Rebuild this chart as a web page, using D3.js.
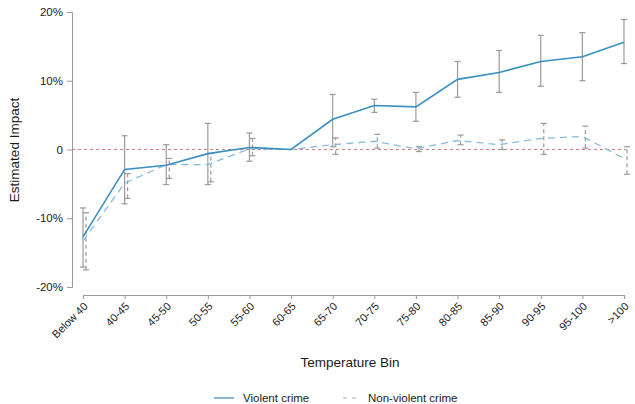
<!DOCTYPE html>
<html>
<head>
<meta charset="utf-8">
<script src="https://cdn.jsdelivr.net/npm/d3@7"></script>
<style>
  body { margin: 0; background: #fff; }
  svg { font-family: "Liberation Sans", Arial, sans-serif; }
</style>
</head>
<body>
<svg id="chart" width="635" height="404"></svg>
<script>
// Temperature bins (x categories)
const bins = ["Below 40", "40-45", "45-50", "50-55", "55-60", "60-65", "65-70",
  "70-75", "75-80", "80-85", "85-90", "90-95", "95-100", ">100"]

// Violent crime: estimate, lower and upper CI (percent)
const violent = [-12.7, -2.9, -2.3, -0.6, 0.3, 0, 4.4, 6.4, 6.2, 10.2, 11.2, 12.8, 13.5, 15.6]
const violentLo = [-17.1, -7.9, -5.1, -5.1, -1.7, 0, 0.4, 5.4, 4.1, 7.6, 8.3, 9.2, 10.0, 12.5]
const violentHi = [-8.5, 2.0, 0.7, 3.8, 2.4, 0, 8.0, 7.3, 8.3, 12.8, 14.4, 16.6, 17.0, 18.9]

// Non-violent crime: estimate, lower and upper CI (percent)
const nonViolent = [-13.3, -4.9, -2.2, -2.2, 0.1, 0, 0.7, 1.2, 0.1, 1.3, 0.7, 1.6, 1.9, -1.3]
const nonViolentLo = [-17.5, -7.1, -4.2, -4.7, -0.9, 0, -0.7, 0.2, -0.3, 0.7, 0.0, -0.7, 0.2, -3.6]
const nonViolentHi = [-9.2, -3.5, -1.3, -0.6, 1.6, 0, 1.7, 2.2, 0.4, 2.1, 1.4, 3.8, 3.4, 0.4]

const yTicks = [-20, -10, 0, 10, 20]
const yTickLabels = ["-20%", "-10%", "0", "10%", "20%"]

const svg = d3.select("#chart")

const x = d3.scalePoint().domain(bins).range([83, 624])
const y = d3.scaleLinear().domain([-20, 20]).range([287, 12])

const axisColor = "#999"
const textColor = "#1a1a1a"

// y axis
const yAxis = svg.append("g")
  .attr("transform", "translate(72,0)")
  .call(d3.axisLeft(y).tickValues(yTicks).tickSize(5).tickPadding(4)
    .tickFormat((d, i) => yTickLabels[i]))
yAxis.select(".domain").attr("stroke", axisColor)
yAxis.selectAll(".tick line").attr("stroke", axisColor)
yAxis.selectAll(".tick text").attr("fill", textColor).style("font-size", "11.5px")

// x axis
const xAxis = svg.append("g")
  .attr("transform", "translate(0,295)")
  .call(d3.axisBottom(x).tickSize(4).tickSizeOuter(0))
xAxis.select(".domain").attr("stroke", axisColor)
xAxis.selectAll(".tick line").attr("stroke", axisColor)
xAxis.selectAll(".tick text")
  .attr("fill", textColor)
  .style("font-size", "11px")
  .attr("text-anchor", "end")
  .attr("dy", null)
  .attr("y", 0)
  .attr("transform", "translate(5,12) rotate(-45)")

// zero reference line
svg.append("line")
  .attr("x1", 72).attr("x2", 626)
  .attr("y1", y(0)).attr("y2", y(0))
  .attr("stroke", "#d08080")
  .attr("stroke-width", 1)
  .attr("stroke-dasharray", "3,3")

const drawErrorBars = (lo, hi, dx, dash) => {
  const g = svg.append("g")
  bins.forEach((b, i) => {
    if (lo[i] === hi[i]) return
    const cx = x(b) + dx
    g.append("line")
      .attr("x1", cx).attr("x2", cx)
      .attr("y1", y(lo[i])).attr("y2", y(hi[i]))
      .attr("stroke", "#9a9a9a").attr("stroke-width", 1.2)
      .attr("stroke-dasharray", dash)
    ;[lo[i], hi[i]].forEach(v => {
      g.append("line")
        .attr("x1", cx - 3).attr("x2", cx + 3)
        .attr("y1", y(v)).attr("y2", y(v))
        .attr("stroke", "#9a9a9a").attr("stroke-width", 1.2)
    })
  })
}

drawErrorBars(nonViolentLo, nonViolentHi, 3, "4,3")
drawErrorBars(violentLo, violentHi, 0, null)

const line = d3.line().x((d, i) => x(bins[i])).y(d => y(d))

svg.append("path")
  .datum(nonViolent)
  .attr("d", line)
  .attr("fill", "none")
  .attr("stroke", "#86bcdf")
  .attr("stroke-width", 1.3)
  .attr("stroke-dasharray", "7,5")

svg.append("path")
  .datum(violent)
  .attr("d", line)
  .attr("fill", "none")
  .attr("stroke", "#3a8fbf")
  .attr("stroke-width", 1.6)

// axis titles
svg.append("text")
  .attr("x", 350).attr("y", 367)
  .attr("text-anchor", "middle")
  .attr("fill", textColor)
  .style("font-size", "13.5px")
  .text("Temperature Bin")

svg.append("text")
  .attr("transform", "translate(19,150) rotate(-90)")
  .attr("text-anchor", "middle")
  .attr("fill", textColor)
  .style("font-size", "13.5px")
  .text("Estimated Impact")

// legend
const legend = svg.append("g").attr("transform", "translate(0,398)")
legend.append("line").attr("x1", 214).attr("x2", 234).attr("y1", 0).attr("y2", 0)
  .attr("stroke", "#6aaad3").attr("stroke-width", 1.6)
legend.append("text").attr("x", 243).attr("y", 4)
  .attr("fill", textColor).style("font-size", "11.5px").text("Violent crime")
legend.append("line").attr("x1", 343).attr("x2", 361).attr("y1", 0).attr("y2", 0)
  .attr("stroke", "#aaa").attr("stroke-width", 1).attr("stroke-dasharray", "4,5")
legend.append("text").attr("x", 368).attr("y", 4)
  .attr("fill", textColor).style("font-size", "11.5px").text("Non-violent crime")
</script>
</body>
</html>
